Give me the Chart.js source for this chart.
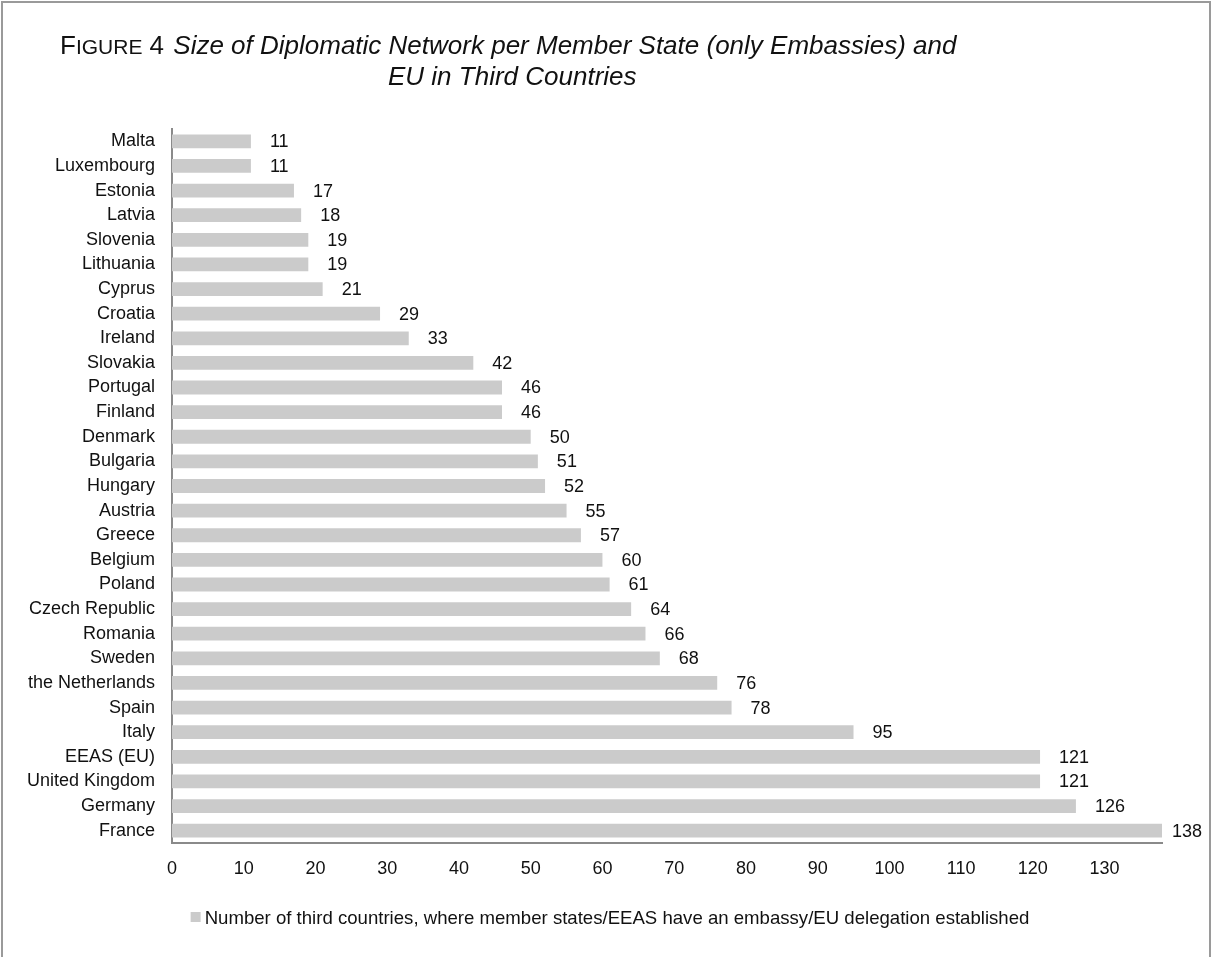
<!DOCTYPE html>
<html>
<head>
<meta charset="utf-8">
<title>Size of Diplomatic Network per Member State</title>
<script src="https://cdn.jsdelivr.net/npm/chart.js@4"></script>
<style>
  html, body { margin: 0; padding: 0; background: #ffffff; }
  canvas { display: block; }
</style>
</head>
<body>
<canvas id="chart" width="1212" height="957"></canvas>
<script>
// Countries (top to bottom) and number of embassies in third countries
const countries = [
  'Malta', 'Luxembourg', 'Estonia', 'Latvia', 'Slovenia', 'Lithuania', 'Cyprus',
  'Croatia', 'Ireland', 'Slovakia', 'Portugal', 'Finland', 'Denmark', 'Bulgaria',
  'Hungary', 'Austria', 'Greece', 'Belgium', 'Poland', 'Czech Republic', 'Romania',
  'Sweden', 'the Netherlands', 'Spain', 'Italy', 'EEAS (EU)', 'United Kingdom',
  'Germany', 'France'
];
const embassies = [
  11, 11, 17, 18, 19, 19, 21,
  29, 33, 42, 46, 46, 50, 51,
  52, 55, 57, 60, 61, 64, 66,
  68, 76, 78, 95, 121, 121,
  126, 138
];
const seriesLabel = 'Number of third countries, where member states/EEAS have an embassy/EU delegation established';
const axisMax = 138;
const tickStep = 10;

const figureNumber = '4';
const titleLine1 = 'Size of Diplomatic Network per Member State (only Embassies) and';
const titleLine2 = 'EU in Third Countries';

const FONT = '"Liberation Sans", Arial, Helvetica, sans-serif';
const TEXT = '#111111';
const AXIS = '#8a8a8a';
const BAR = '#cbcbcb';

Chart.defaults.font.family = FONT;
Chart.defaults.color = TEXT;

// Frame around the figure
const framePlugin = {
  id: 'frame',
  beforeDraw(chart) {
    const ctx = chart.ctx;
    ctx.save();
    ctx.fillStyle = '#ffffff';
    ctx.fillRect(0, 0, chart.width, chart.height);
    ctx.strokeStyle = '#9a9a9a';
    ctx.lineWidth = 2;
    ctx.beginPath();
    ctx.moveTo(2, chart.height);
    ctx.lineTo(2, 2);
    ctx.lineTo(chart.width - 2, 2);
    ctx.lineTo(chart.width - 2, chart.height);
    ctx.stroke();
    ctx.restore();
  }
};

// Heading: small-caps "FIGURE n" followed by the italic title
const headingPlugin = {
  id: 'heading',
  afterDraw(chart) {
    const ctx = chart.ctx;
    ctx.save();
    ctx.fillStyle = TEXT;
    ctx.textAlign = 'left';
    ctx.textBaseline = 'alphabetic';
    let x = 60;
    const y1 = 54, y2 = 85;
    ctx.font = '26px ' + FONT;
    ctx.fillText('F', x, y1);
    x += ctx.measureText('F').width;
    ctx.font = '21px ' + FONT;
    ctx.fillText('IGURE', x, y1);
    x += ctx.measureText('IGURE').width;
    ctx.font = '26px ' + FONT;
    const num = ' ' + figureNumber + ' ';
    ctx.fillText(num, x, y1);
    x += ctx.measureText(num).width + 2;
    ctx.font = 'italic 26px ' + FONT;
    ctx.fillText(titleLine1, x, y1);
    ctx.fillText(titleLine2, 388, y2);
    ctx.restore();
  }
};

// Value labels just past the end of each bar
const valueLabelPlugin = {
  id: 'valueLabels',
  afterDatasetsDraw(chart) {
    const ctx = chart.ctx;
    const meta = chart.getDatasetMeta(0);
    const xScale = chart.scales.x;
    const area = chart.chartArea;
    ctx.save();
    ctx.font = '18px ' + FONT;
    ctx.fillStyle = TEXT;
    ctx.textAlign = 'left';
    ctx.textBaseline = 'middle';
    chart.data.datasets[0].data.forEach((v, i) => {
      const bar = meta.data[i];
      const end = xScale.getPixelForValue(v);
      const x = Math.min(end + 19, area.right + 10);
      ctx.fillText(String(v), x, bar.y + 1);
    });
    ctx.restore();
  }
};

// Legend below the axis
const legendPlugin = {
  id: 'bottomLegend',
  afterDraw(chart) {
    const ctx = chart.ctx;
    const ds = chart.data.datasets[0];
    ctx.save();
    ctx.font = '18.6px ' + FONT;
    const tw = ctx.measureText(ds.label).width;
    const box = 10, gap = 4;
    const total = box + gap + tw;
    const x0 = (chart.width - total) / 2 + 4;
    const yMid = 918;
    ctx.fillStyle = ds.backgroundColor;
    ctx.fillRect(x0, yMid - 6, box, box);
    ctx.fillStyle = TEXT;
    ctx.textAlign = 'left';
    ctx.textBaseline = 'middle';
    ctx.fillText(ds.label, x0 + box + gap, yMid + 1);
    ctx.restore();
  }
};

new Chart(document.getElementById('chart'), {
  type: 'bar',
  data: {
    labels: countries,
    datasets: [{
      label: seriesLabel,
      data: embassies,
      backgroundColor: BAR,
      borderWidth: 0,
      categoryPercentage: 1,
      barPercentage: 0.56
    }]
  },
  options: {
    indexAxis: 'y',
    responsive: false,
    animation: false,
    layout: { padding: { left: 0, right: 50, top: 129, bottom: 58 } },
    plugins: {
      legend: { display: false },
      tooltip: { enabled: false },
      title: { display: false }
    },
    scales: {
      x: {
        min: 0,
        max: axisMax,
        afterBuildTicks(scale) {
          scale.ticks = scale.ticks.filter(t => t.value % tickStep === 0);
        },
        afterFit(scale) { scale.height = 56; },
        ticks: { stepSize: tickStep, padding: 15, color: TEXT, font: { size: 18 }, maxRotation: 0 },
        grid: { display: false, drawTicks: false },
        border: { display: true, color: AXIS, width: 2 }
      },
      y: {
        afterFit(scale) { scale.width = 172; },
        ticks: { padding: 17, color: TEXT, font: { size: 18 }, autoSkip: false },
        grid: { display: false, drawTicks: false },
        border: { display: true, color: AXIS, width: 2 }
      }
    }
  },
  plugins: [framePlugin, headingPlugin, valueLabelPlugin, legendPlugin]
});
</script>
</body>
</html>
